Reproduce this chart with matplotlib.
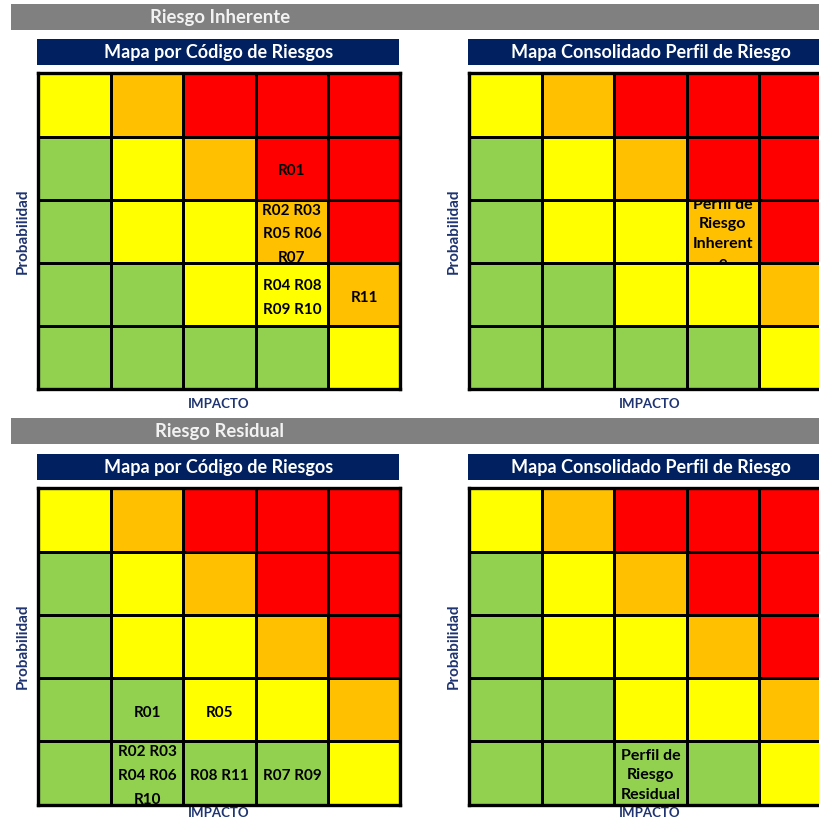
import numpy as np
import matplotlib
matplotlib.use("Agg")
import matplotlib.pyplot as plt
from matplotlib.colors import ListedColormap
from matplotlib.patches import Rectangle
from matplotlib.transforms import Bbox, TransformedBbox, offset_copy

plt.rcParams["font.family"] = ["Lato", "DejaVu Sans"]

# ---- data -------------------------------------------------------------
risk_codes = ["R01", "R02", "R03", "R04", "R05", "R06",
              "R07", "R08", "R09", "R10", "R11"]
inherent_prob = [4, 3, 3, 2, 3, 3, 3, 2, 2, 2, 2]
inherent_impact = [4, 4, 4, 4, 4, 4, 4, 4, 4, 4, 5]
residual_prob = [2, 1, 1, 1, 2, 1, 1, 1, 1, 1, 1]
residual_impact = [2, 2, 2, 2, 3, 2, 4, 3, 4, 2, 3]

# risk level per cell, rows = probability 1..5 (bottom to top), cols = impact 1..5
risk_level = [
    [1, 1, 1, 1, 2],
    [1, 1, 2, 2, 3],
    [1, 2, 2, 3, 4],
    [1, 2, 3, 4, 4],
    [2, 3, 4, 4, 4],
]

inherent_profile = (3, 4)   # (probability, impact)
residual_profile = (1, 3)
inherent_profile_text = "Perfil de\nRiesgo\nInherent\ne"
residual_profile_text = "Perfil de\nRiesgo\nResidual"

section_titles = ["Riesgo Inherente", "Riesgo Residual"]
map_titles = ["Mapa por Código de Riesgos", "Mapa Consolidado Perfil de Riesgo"]
x_label = "IMPACTO"
y_label = "Probabilidad"

# ---- style ------------------------------------------------------------
level_colors = ["#92D050", "#FFFF00", "#FFC000", "#FF0000"]
navy = "#002060"
label_navy = "#1F3470"
gray = "#808080"

W, H = 820, 821
fig = plt.figure(figsize=(W / 100, H / 100), dpi=100)
fig.patch.set_facecolor("white")

bg = fig.add_axes([0, 0, 1, 1])
bg.set_xlim(0, W)
bg.set_ylim(H, 0)
bg.axis("off")
bg.set_zorder(-1)


def fig_rect(x, y, w, h):
    return [x / W, 1 - (y + h) / H, w / W, h / H]


def cell_text(ax, prob, imp, text, size=11, spacing=1.6, drop=2.0):
    # text block sits slightly below the cell centre and is clipped to the cell
    tr = offset_copy(ax.transData, fig=fig, x=0, y=-drop, units="dots")
    t = ax.text(imp - 0.5, prob - 0.5, text, ha="center", va="center",
                fontsize=size, fontweight="bold", color="black",
                linespacing=spacing, multialignment="center", transform=tr)
    t.set_clip_box(TransformedBbox(Bbox([[imp - 1, prob - 1], [imp, prob]]),
                                   ax.transData))
    t.set_clip_on(True)


def draw_grid(x0, y0, w, h):
    ax = fig.add_axes(fig_rect(x0, y0, w, h))
    ax.pcolormesh(np.arange(6), np.arange(6), np.array(risk_level),
                  cmap=ListedColormap(level_colors), vmin=0.5, vmax=4.5,
                  edgecolors="black", linewidth=1.0)
    ax.set_xlim(0, 5)
    ax.set_ylim(0, 5)
    ax.set_xticks([])
    ax.set_yticks([])
    for s in ax.spines.values():
        s.set_linewidth(2.4)
        s.set_color("black")
    return ax


def group_codes(probs, imps):
    cells = {}
    for code, p, i in zip(risk_codes, probs, imps):
        cells.setdefault((p, i), []).append(code)
    return cells


grid_w, grid_h = 362, 316
left_x = [38.5, 469.5]
section_y = [4, 418]
header_y = [39, 454]
grid_y = [73.5, 488.5]
impact_y = [404, 813]

for k in range(2):
    # section bar
    bg.add_patch(Rectangle((11, section_y[k]), W, 26, facecolor=gray,
                           edgecolor="none"))
    bg.text(220, section_y[k] + 13.5, section_titles[k], ha="center",
            va="center", fontsize=13.3, fontweight="bold", color="#F2F2F2")

    probs = inherent_prob if k == 0 else residual_prob
    imps = inherent_impact if k == 0 else residual_impact
    profile = inherent_profile if k == 0 else residual_profile
    profile_text = inherent_profile_text if k == 0 else residual_profile_text

    for j in range(2):
        x0 = left_x[j]
        # navy header
        bg.add_patch(Rectangle((x0 - 1, header_y[k]), grid_w, 26,
                               facecolor=navy, edgecolor="none"))
        bg.text(x0 - 1 + grid_w / 2 + (1 if j else 0), header_y[k] + 13.5,
                map_titles[j], ha="center", va="center", fontsize=13,
                fontweight="bold", color="white")

        ax = draw_grid(x0, grid_y[k], grid_w, grid_h)

        bg.text(x0 + grid_w / 2 - 1, impact_y[k], x_label, ha="center",
                va="center", fontsize=9.5, fontweight="bold", color=label_navy)
        bg.text(x0 - 16, grid_y[k] + grid_h / 2, y_label, ha="center",
                va="center", rotation=90, fontsize=11, fontweight="bold",
                color=label_navy)

        if j == 0:
            for (p, i), codes in group_codes(probs, imps).items():
                lines = [" ".join(codes[n:n + 2]) for n in range(0, len(codes), 2)]
                cell_text(ax, p, i, "\n".join(lines), size=11, spacing=1.9,
                          drop=3.0)
        else:
            cell_text(ax, profile[0], profile[1], profile_text, size=11.5,
                      spacing=1.5, drop=2.5)

fig.savefig("out.png", dpi=100)
